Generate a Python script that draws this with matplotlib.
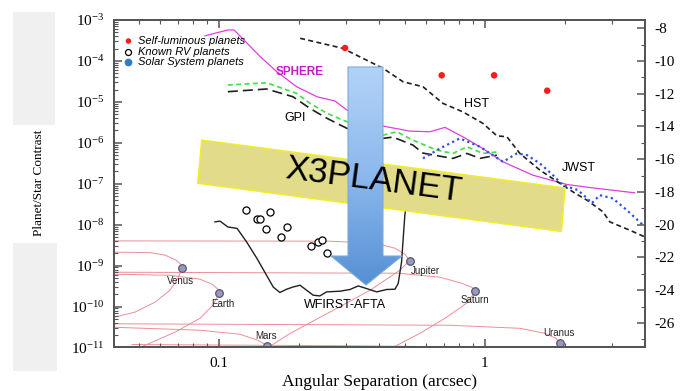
import numpy as np
import matplotlib.pyplot as plt
from matplotlib.patches import Polygon, Rectangle
from matplotlib.colors import LinearSegmentedColormap
from matplotlib.ticker import LogLocator, MultipleLocator, FuncFormatter, NullFormatter

plt.rcParams['font.family'] = ['Liberation Serif', 'DejaVu Serif']
plt.rcParams['mathtext.fontset'] = 'custom'
plt.rcParams['mathtext.rm'] = 'Liberation Serif'
plt.rcParams['mathtext.it'] = 'Liberation Serif:italic'
SANS = ['Liberation Sans', 'DejaVu Sans']

# ---- data (separation in arcsec, planet/star contrast) ----
sphere_sep = [0.0886, 0.108, 0.114, 0.143, 0.165, 0.196, 0.234, 0.273, 0.303, 0.360, 0.414,
              0.522, 0.621, 0.708, 0.826, 0.958, 1.169, 1.515, 2.03, 2.55, 3.66]
sphere_con = [4.1e-4, 5.7e-4, 5.7e-4, 1.27e-4, 5.45e-5, 2.34e-5, 1.33e-5, 1.05e-5, 6.3e-6, 3.6e-6, 2.56e-6,
              1.93e-6, 1.86e-6, 2.38e-6, 1.40e-6, 8.0e-7, 3.43e-7, 1.62e-7, 9.6e-8, 7.9e-8, 6.0e-8]

gpi_green_sep = [0.108, 0.151, 0.196, 0.220, 0.255, 0.292, 0.414, 0.467, 0.536, 0.660, 0.759, 0.856, 0.983, 1.119]
gpi_green_con = [2.57e-5, 2.93e-5, 1.61e-5, 9.2e-6, 5.24e-6, 3.59e-6, 1.54e-6, 1.86e-6, 1.16e-6, 6.6e-7,
                 5.5e-7, 8.0e-7, 5.5e-7, 6.0e-7]

gpi_sep = [0.108, 0.151, 0.190, 0.220, 0.255, 0.303, 0.414, 0.451, 0.536, 0.585, 0.678, 0.759, 0.856, 0.958, 1.109]
gpi_con = [1.77e-5, 2.06e-5, 1.33e-5, 6.9e-6, 3.95e-6, 2.25e-6, 1.28e-6, 1.38e-6, 8.8e-7, 5.6e-7,
           4.7e-7, 4.16e-7, 5.5e-7, 4.16e-7, 5.0e-7]

hst_sep = [0.202, 0.292, 0.414, 0.492, 0.585, 0.695, 0.826, 0.983, 1.109, 1.21, 1.354, 1.61, 1.914,
           2.18, 2.42, 2.78, 2.95, 3.51, 4.0]
hst_con = [3.57e-4, 2.03e-4, 6.6e-5, 3.1e-5, 2.34e-5, 9.2e-6, 5.7e-6, 2.98e-6, 1.48e-6, 1.40e-6, 5.5e-7,
           2.15e-7, 1.02e-7, 5.9e-8, 3.97e-8, 2.06e-8, 1.17e-8, 7.3e-9, 5.0e-9]

jwst_sep = [0.585, 0.678, 0.805, 0.958, 1.169, 1.319, 1.439, 1.61, 1.803, 1.964, 2.237, 2.417, 2.525,
            2.705, 3.03, 3.42, 4.0]
jwst_con = [4.16e-7, 7.3e-7, 1.28e-6, 8.0e-7, 3.43e-7, 5.5e-7, 5.0e-7, 3.13e-7, 1.62e-7, 9.2e-8, 7.0e-8,
            4.45e-8, 3.36e-8, 5.26e-8, 4.37e-8, 2.26e-8, 8.8e-9]

wfirst_sep = [0.0966, 0.1009, 0.108, 0.117, 0.127, 0.139, 0.151, 0.160, 0.1695, 0.1796, 0.190, 0.2017,
              0.2137, 0.2262, 0.2396, 0.254, 0.285, 0.311, 0.334, 0.359, 0.392, 0.427, 0.459, 0.472,
              0.486, 0.500, 0.509]
wfirst_con = [1.17e-8, 1.22e-8, 8.8e-9, 8.1e-9, 3.8e-9, 1.49e-9, 5.8e-10, 3.0e-10, 2.2e-10, 2.65e-10,
              3.0e-10, 3.32e-10, 2.5e-10, 1.89e-10, 1.82e-10, 2.28e-10, 2.37e-10, 2.61e-10, 3.19e-10,
              2.75e-10, 2.28e-10, 2.61e-10, 2.65e-10, 3.65e-10, 1.23e-9, 1.71e-8, 3.97e-8]

selflum_sep = [0.298, 0.688, 1.083, 1.715]
selflum_con = [2.07e-4, 4.45e-5, 4.45e-5, 1.87e-5]

rv_sep = [0.1266, 0.1386, 0.1426, 0.156, 0.1507, 0.181, 0.171, 0.221, 0.236, 0.245, 0.254]
rv_con = [2.26e-8, 1.34e-8, 1.34e-8, 2.02e-8, 7.64e-9, 8.55e-9, 5.04e-9, 2.98e-9, 3.67e-9, 4.18e-9, 2.04e-9]

planet_names = ['Venus', 'Earth', 'Mars', 'Jupiter', 'Saturn', 'Uranus']
planet_sep = [0.0726, 0.1002, 0.152, 0.521, 0.920, 1.914]
planet_con = [8.5e-10, 2.11e-10, 1.11e-11, 1.33e-9, 2.4e-10, 1.27e-11]

# phase curves of the Solar System planets (separation, contrast)
orbit_curves = {
    'venus_up': ([0.0403, 0.055, 0.0627, 0.069, 0.0718, 0.0726],
                 [2.13e-9, 2.08e-9, 1.80e-9, 1.36e-9, 1.08e-9, 8.5e-10]),
    'venus_lo': ([0.0726, 0.0701, 0.0654, 0.0574, 0.0483, 0.0403],
                 [8.5e-10, 4.9e-10, 2.5e-10, 1.27e-10, 7.3e-11, 5.5e-11]),
    'earth_up': ([0.0403, 0.0654, 0.0849, 0.0942, 0.0991, 0.1002],
                 [6.17e-10, 5.8e-10, 4.65e-10, 3.51e-10, 2.65e-10, 2.11e-10]),
    'earth_lo': ([0.1002, 0.0949, 0.0849, 0.0683, 0.0505, 0.0483],
                 [2.11e-10, 1.08e-10, 5.17e-11, 2.36e-11, 1.0e-11, 8.5e-12]),
    'mars_up': ([0.0403, 0.0849, 0.120, 0.140, 0.152],
                [3.12e-11, 2.64e-11, 2.1e-11, 1.5e-11, 1.11e-11]),
    'jupiter_up': ([0.0403, 0.261, 0.386, 0.459, 0.500, 0.521],
                   [4.02e-9, 3.95e-9, 3.53e-9, 2.66e-9, 1.90e-9, 1.33e-9]),
    'jupiter_lo': ([0.521, 0.479, 0.370, 0.261, 0.185, 0.153],
                   [1.33e-9, 7.7e-10, 2.5e-10, 7.3e-11, 2.2e-11, 1.0e-11]),
    'saturn_up': ([0.0403, 0.479, 0.678, 0.819, 0.893, 0.920],
                  [6.9e-10, 6.5e-10, 5.2e-10, 3.7e-10, 2.96e-10, 2.4e-10]),
    'saturn_lo': ([0.920, 0.863, 0.708, 0.570, 0.451],
                  [2.4e-10, 1.27e-10, 5.17e-11, 2.22e-11, 1.0e-11]),
    'uranus_up': ([0.0403, 0.739, 1.354, 1.681, 1.849, 1.914],
                  [3.79e-11, 3.49e-11, 2.94e-11, 2.22e-11, 1.68e-11, 1.27e-11]),
    'faint': ([0.0471, 0.311, 1.681],
              [1.18e-11, 1.10e-11, 9.9e-12]),
}

mag_ticks = np.arange(-26, -7, 2)
xtick_vals = [0.1, 1]
xtick_labels = ['0.1', '1']

# ---- figure ----
fig = plt.figure(figsize=(6.9, 3.91), dpi=100)
for (x0, y0, w, h) in [(0.0188, 0.680, 0.061, 0.289), (0.0188, 0.051, 0.064, 0.327)]:
    fig.add_artist(Rectangle((x0, y0), w, h, transform=fig.transFigure,
                             facecolor='#f0f0f0', edgecolor='none', zorder=0))

ax = fig.add_axes([0.1652, 0.1113, 0.7696, 0.8376])
ax.set_xscale('log')
ax.set_yscale('log')
ax.set_xlim(0.0403, 4.0)
ax.set_ylim(1e-11, 1e-3)

for name, (s, c) in orbit_curves.items():
    ax.plot(s, c, color='#ec8f95', lw=0.7, zorder=1)

ax.plot(sphere_sep, sphere_con, color='#dd40dd', lw=0.9, zorder=3)
ax.plot(gpi_green_sep, gpi_green_con, color='#40e040', lw=1.2, ls=(0, (3, 2)), zorder=3)
ax.plot(gpi_sep, gpi_con, color='#202020', lw=1.2, ls=(0, (6, 3)), zorder=3)
ax.plot(hst_sep, hst_con, color='#202020', lw=1.2, ls=(0, (3, 2)), zorder=3)
ax.plot(jwst_sep, jwst_con, color='#3050e0', lw=1.6, ls=(0, (1, 1.5)), zorder=3)
ax.plot(wfirst_sep, wfirst_con, color='#202020', lw=1.0, zorder=3)

ax.scatter(selflum_sep, selflum_con, s=22, color='#ff1a1a', edgecolors='none', zorder=4,
           label='Self-luminous planets')
ax.scatter(rv_sep, rv_con, s=26, facecolors='white', edgecolors='black', linewidths=0.9, zorder=4,
           label='Known RV planets')
ax.scatter(planet_sep, planet_con, s=30, color='#9a9ab8', edgecolors='#55557a', linewidths=0.9,
           zorder=4, label='Solar System planets')

leg = ax.legend(loc='upper left', bbox_to_anchor=(0.0, 0.975), frameon=False,
                prop={'family': SANS, 'style': 'italic', 'size': 8},
                handletextpad=0.3, labelspacing=0.05, borderaxespad=0.3, handlelength=1.2,
                markerscale=0.85)
leg.legend_handles[2].set_facecolor('#2f7fc0')
leg.legend_handles[2].set_edgecolor('#2f7fc0')

ax.text(0.2017, 5.45e-5, 'SPHERE', color='#c020c0', fontsize=8.5, fontweight='bold',
        family=SANS, ha='center', va='center', zorder=5)
ax.text(0.1926, 3.95e-6, 'GPI', fontsize=9, family=SANS, ha='center', va='center', zorder=5)
ax.text(0.931, 8.7e-6, 'HST', fontsize=9, family=SANS, ha='center', va='center', zorder=5)
ax.text(2.258, 2.45e-7, 'JWST', fontsize=9, family=SANS, ha='center', va='center', zorder=5)
ax.text(0.2981, 1.08e-10, 'WFIRST-AFTA', fontsize=9, family=SANS, ha='center', va='center', zorder=5)
planet_label_pos = [(0.0718, 4.2e-10), (0.1033, 1.14e-10), (0.1509, 1.88e-11),
                    (0.595, 7.3e-10), (0.917, 1.48e-10), (1.903, 2.26e-11)]
for name, (lx, ly) in zip(planet_names, planet_label_pos):
    ax.text(lx, ly, name, fontsize=7, family=SANS, ha='center', va='center', color='#222222', zorder=5)

ax.yaxis.set_major_locator(LogLocator(base=10, numticks=20))
ax.yaxis.set_minor_locator(LogLocator(base=10, subs=np.arange(2, 10), numticks=100))
ax.yaxis.set_minor_formatter(NullFormatter())
ax.set_xticks(xtick_vals, labels=xtick_labels)
ax.xaxis.set_minor_locator(LogLocator(base=10, subs=np.arange(2, 10), numticks=100))
ax.xaxis.set_minor_formatter(NullFormatter())
ax.tick_params(which='both', direction='in', top=True, right=False, colors='#555555',
               labelcolor='black', labelsize=11)
ax.tick_params(which='major', length=6, width=1.1)
ax.tick_params(which='minor', length=3, width=0.8)
ax.tick_params(axis='y', pad=7)
ax.tick_params(axis='x', pad=7)

ax2 = ax.twinx()
ax2.set_ylim(2.5 * np.log10(1e-11), 2.5 * np.log10(1e-3))
ax2.set_yticks(mag_ticks)
ax2.yaxis.set_minor_locator(MultipleLocator(1))
ax2.yaxis.set_major_formatter(FuncFormatter(lambda v, _: f"{int(round(v))}"))
ax2.tick_params(which='both', direction='in', colors='#555555', labelcolor='black', labelsize=11, pad=7)
ax2.tick_params(which='major', length=6, width=1.1)
ax2.tick_params(which='minor', length=3, width=0.8)

for a in (ax, ax2):
    for sp in a.spines.values():
        sp.set_color('#555555')
        sp.set_linewidth(1.4)

fig.text(380 / 690, 1 - 382 / 391, 'Angular Separation (arcsec)', fontsize=12.5,
         ha='center', va='center')
fig.text(39 / 690, 1 - 183 / 391, 'Planet/Star Contrast', fontsize=9.5, rotation=90,
         ha='center', va='center')

# ---- overlay: X3PLANET banner and arrow (figure pixel coordinates) ----
ov = fig.add_axes([0, 0, 1, 1], zorder=5)
ov.axis('off')
banner = Polygon([(201.7, 140), (565, 188), (561.5, 231.5), (197.7, 183.3)], closed=True,
                 facecolor='#e2dc8a', edgecolor='#f2ee20', lw=1.0, zorder=1)
ov.add_patch(banner)

arrow_pts = [(348, 67), (383, 67), (383, 256), (402, 256), (366, 285), (331, 256), (348, 256)]
arrow = Polygon(arrow_pts, closed=True, facecolor='none', edgecolor='#7ea9dc', lw=0.8, zorder=3)
ov.add_patch(arrow)
grad = np.linspace(0, 1, 256).reshape(-1, 1)
cmap = LinearSegmentedColormap.from_list('arrow', ['#b2d3f8', '#8cb8ec', '#5590d4'])
img = ov.imshow(grad, cmap=cmap, extent=(331, 402, 285, 67), origin='upper',
                aspect='auto', zorder=2, interpolation='bilinear')
img.set_clip_path(arrow)

ov.text(374, 180, 'X3PLANET', fontsize=25, family=SANS, rotation=-7.5,
        ha='center', va='center', rotation_mode='anchor', zorder=4)
ov.set_xlim(0, 690)
ov.set_ylim(391, 0)

fig.savefig('out.png', dpi=100)
